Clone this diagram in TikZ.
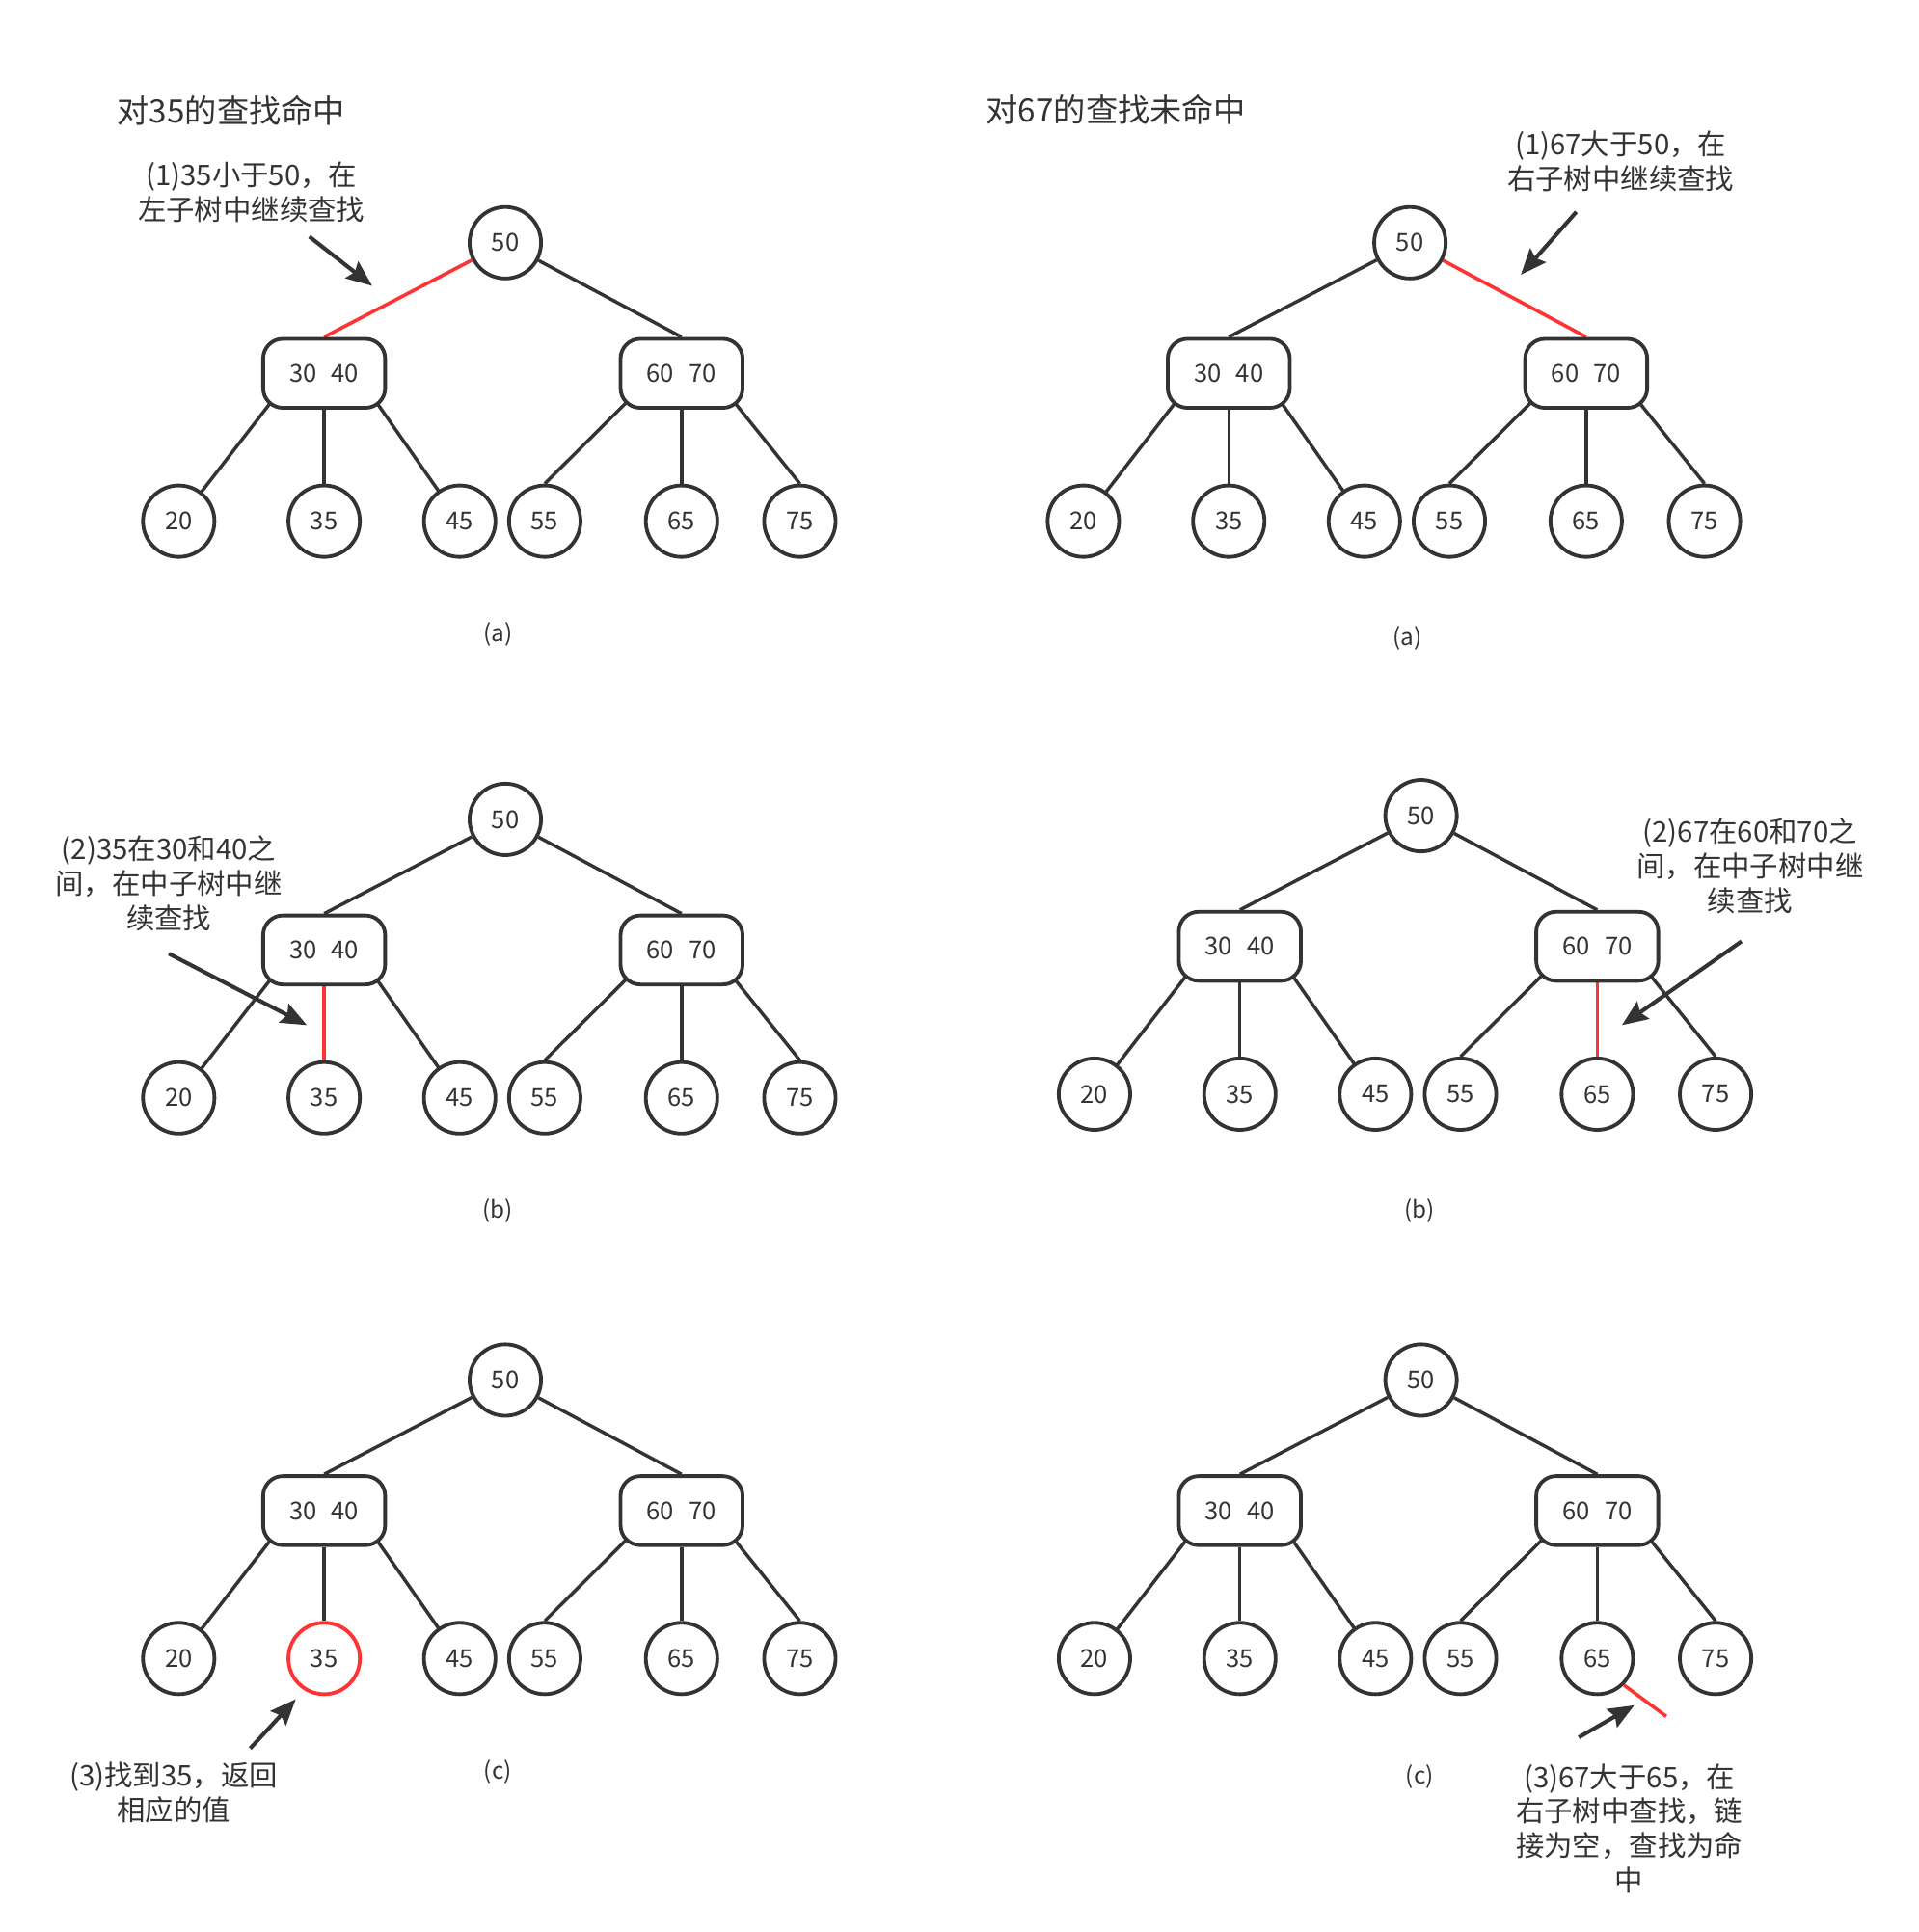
\documentclass[tikz,border=0pt]{standalone}
\usepackage{fontspec}
\setmainfont{Noto Sans CJK SC}
\usetikzlibrary{arrows.meta,calc,backgrounds}
\definecolor{sotet}{HTML}{333333}
\definecolor{piros}{HTML}{FF3333}
\tikzset{
  kor/.style={circle,draw=sotet,line width=3pt,fill=white,minimum size=58pt,inner sep=0pt,
              font=\fontsize{20}{24}\selectfont,text=sotet},
  dob/.style={rectangle,rounded corners=16pt,draw=sotet,line width=3pt,fill=white,
              minimum width=99pt,minimum height=56pt,inner sep=0pt,font=\fontsize{20}{24}\selectfont,text=sotet},
  el/.style={draw=sotet,line width=2.7pt},
  pel/.style={draw=piros,line width=2.8pt},
  nyil/.style={-{Stealth[length=21pt,width=17pt,inset=3pt]},draw=sotet,line width=3.2pt},
  megj/.style={align=center,font=\fontsize{23}{28}\selectfont,text=sotet,inner sep=0pt},
  cim/.style={anchor=west,font=\fontsize{26}{30}\selectfont,text=sotet,inner sep=0pt},
  felirat/.style={font=\fontsize{19}{22}\selectfont,text=sotet,inner sep=0pt},
  ea/.style={}, eb/.style={}, e35/.style={}, e65/.style={}, k35/.style={},
}
% one 2-3 tree: prefix, root x, root y, local styles
\newcommand{\fa}[4]{%
  \begin{scope}[shift={(#2,#3)},#4]
    \node[kor] (#1r) at (0,0) {50};
    \node[dob] (#1a) at (-147,106) {30\hspace{0.6em}40};
    \node[dob] (#1b) at (143,106) {60\hspace{0.6em}70};
    \node[kor] (#1l20) at (-265,226) {20};
    \node[kor,k35] (#1l35) at (-147,226) {35};
    \node[kor] (#1l45) at (-37,226) {45};
    \node[kor] (#1l55) at (32,226) {55};
    \node[kor] (#1l65) at (143,226) {65};
    \node[kor] (#1l75) at (239,226) {75};
    \begin{scope}[on background layer]
      \draw[el,ea] (#1r) -- (#1a.north);
      \draw[el,eb] (#1r) -- (#1b.north);
      \draw[el] ([xshift=-25pt]#1a.center) -- (#1l20.center);
      \draw[el,e35] (#1a) -- (#1l35);
      \draw[el] ([xshift=26pt]#1a.center) -- (#1l45.center);
      \draw[el] ([xshift=-21pt]#1b.center) -- (#1l55.north);
      \draw[el,e65] (#1b) -- (#1l65);
      \draw[el] ([xshift=24pt]#1b.center) -- (#1l75.north);
    \end{scope}
  \end{scope}}

\begin{document}
\begin{tikzpicture}[x=1pt,y=-1pt]
  \useasboundingbox (0,0) rectangle (1557,1568);

  % titles
  \node[cim] (c1) at (95,90) {对35的查找命中};
  \node[cim] (c2) at (800,89) {对67的查找未命中};

  % trees
  \fa{ta}{410}{197}{ea/.style={pel}}
  \fa{tb}{1144}{197}{eb/.style={pel}}
  \fa{ka}{410}{665}{e35/.style={pel}}
  \fa{kb}{1153}{662}{e65/.style={pel}}
  \fa{aa}{410}{1120}{k35/.style={draw=piros}}
  \fa{ab}{1153}{1120}{}

  % captions
  \node[felirat] (f1) at (404,515) {(a)};
  \node[felirat] (f2) at (1142,518) {(a)};
  \node[felirat] (f3) at (404,983) {(b)};
  \node[felirat] (f4) at (1152,983) {(b)};
  \node[felirat] (f5) at (404,1438) {(c)};
  \node[felirat] (f6) at (1152,1442) {(c)};

  % notes
  \node[megj] (m1) at (204,156) {(1)35小于50，在\\左子树中继续查找};
  \node[megj] (m2) at (1315,131) {(1)67大于50，在\\右子树中继续查找};
  \node[megj] (m3) at (137,717) {(2)35在30和40之\\间，在中子树中继\\续查找};
  \node[megj] (m4) at (1420,703) {(2)67在60和70之\\间，在中子树中继\\续查找};
  \node[megj] (m5) at (141,1455) {(3)找到35，返回\\相应的值};
  \node[megj] (m6) at (1322,1484) {(3)67大于65，在\\右子树中查找，链\\接为空，查找为命\\中};

  % arrows
  \coordinate (n1k) at (251,192);  \coordinate (n1v) at (302,232);
  \coordinate (n2k) at (1279,172); \coordinate (n2v) at (1234,223);
  \coordinate (n3k) at (137,774);  \coordinate (n3v) at (249,832);
  \coordinate (n4k) at (1413,764); \coordinate (n4v) at (1316,832);
  \coordinate (n5k) at (203,1419); \coordinate (n5v) at (240,1379);
  \coordinate (n6k) at (1281,1410);\coordinate (n6v) at (1326,1384);
  \draw[nyil] (n1k) -- (n1v);
  \draw[nyil] (n2k) -- (n2v);
  \draw[nyil] (n3k) -- (n3v);
  \draw[nyil] (n4k) -- (n4v);
  \draw[nyil] (n5k) -- (n5v);
  \draw[nyil] (n6k) -- (n6v);

  % empty link below 65
  \coordinate (ures) at (1352,1393);
  \draw[pel] (abl65.-45) -- (ures);
\end{tikzpicture}
\end{document}
